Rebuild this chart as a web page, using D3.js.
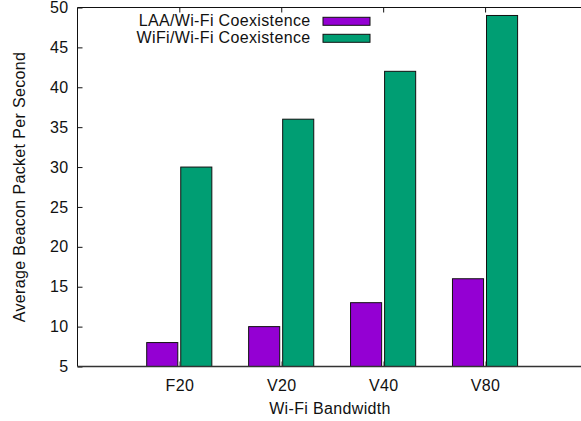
<!DOCTYPE html>
<html>
<head>
<meta charset="utf-8">
<script src="https://cdn.jsdelivr.net/npm/d3@7"></script>
<style>
  body { margin: 0; background: #fff; }
  svg text { font-family: "Liberation Sans", Arial, sans-serif; fill: #111; letter-spacing: 0.35px; }
</style>
</head>
<body>
<svg id="chart" width="581" height="421"></svg>
<script>
// categories and series
var categories = ["F20", "V20", "V40", "V80"];
var laaValues = [8, 10, 13, 16];
var wifiValues = [30, 36, 42, 49];
var seriesNames = ["LAA/Wi-Fi Coexistence", "WiFi/Wi-Fi Coexistence"];
var yTicks = [5, 10, 15, 20, 25, 30, 35, 40, 45, 50];

var colors = ["#9400d3", "#009e73"];
var margin = {left: 77.5, top: 7.5, bottom: 366.5};
var fontSize = 16;

var svg = d3.select("#chart");

// x in category units: F20 at 1, V80 at 4
var x = d3.scaleLinear().domain([0, 5]).range([77.4, 587]);
var y = d3.scaleLinear().domain([5, 50]).range([margin.bottom, margin.top]);

var barW = x(0.305) - x(0);
var offsets = [-0.32, 0.014]; // left edge of each bar relative to category, in units

var series = [laaValues, wifiValues];

// bars
series.forEach(function (vals, s) {
    svg.append("g").selectAll("rect")
        .data(vals)
        .enter().append("rect")
        .attr("x", function (d, i) { return x(i + 1 + offsets[s]); })
        .attr("y", function (d) { return y(d); })
        .attr("width", barW)
        .attr("height", function (d) { return y(5) - y(d); })
        .attr("fill", colors[s])
        .attr("stroke", "#111")
        .attr("stroke-width", 1);
});

// bottom ticks (mostly hidden between the bars)
svg.append("g").selectAll("line")
    .data(categories)
    .enter().append("line")
    .attr("x1", function (d, i) { return Math.round(x(i + 1)) + 0.5; })
    .attr("x2", function (d, i) { return Math.round(x(i + 1)) + 0.5; })
    .attr("y1", margin.bottom)
    .attr("y2", margin.bottom - 5)
    .attr("stroke", "#999");

// y axis, ticks pointing inward
var yAxis = d3.axisLeft(y).tickValues(yTicks).tickSize(-5).tickPadding(9);
var gy = svg.append("g").attr("transform", "translate(" + margin.left + ",0)").call(yAxis);
gy.select(".domain").remove();
gy.selectAll("line").attr("stroke", "#111");
gy.selectAll("text").attr("font-size", fontSize).style("font-family", "Liberation Sans, Arial, sans-serif").attr("fill", "#111");

// x tick labels at bottom
var xAxis = d3.axisBottom(x).tickValues([1, 2, 3, 4])
    .tickFormat(function (d) { return categories[d - 1]; })
    .tickSize(0).tickPadding(13);
var gx = svg.append("g").attr("transform", "translate(0," + margin.bottom + ")").call(xAxis);
gx.select(".domain").remove();
gx.selectAll("text").attr("font-size", fontSize).style("font-family", "Liberation Sans, Arial, sans-serif").attr("fill", "#111");

// mirrored x ticks at top, pointing down
var xTop = d3.axisTop(x).tickValues([1, 2, 3, 4]).tickSize(-5).tickFormat("");
var gt = svg.append("g").attr("transform", "translate(0," + margin.top + ")").call(xTop);
gt.select(".domain").remove();
gt.selectAll("line").attr("stroke", "#111");

// frame: left, bottom, top (no right border)
svg.append("line").attr("x1", margin.left).attr("x2", margin.left)
    .attr("y1", margin.top).attr("y2", margin.bottom).attr("stroke", "#111");
svg.append("line").attr("x1", margin.left).attr("x2", 581)
    .attr("y1", margin.top).attr("y2", margin.top).attr("stroke", "#111");
svg.append("line").attr("x1", margin.left).attr("x2", 581)
    .attr("y1", margin.bottom).attr("y2", margin.bottom).attr("stroke", "#333").attr("stroke-width", 1.5);

// legend
var legend = svg.append("g");
seriesNames.forEach(function (name, s) {
    var cy = 21.3 + s * 17;
    legend.append("text")
        .attr("x", 310.5).attr("y", cy + 5)
        .attr("text-anchor", "end")
        .attr("font-size", fontSize)
        .text(name);
    legend.append("rect")
        .attr("x", 323).attr("y", cy - 4)
        .attr("width", 47).attr("height", 8)
        .attr("fill", colors[s]).attr("stroke", "#111");
});

// axis titles
svg.append("text")
    .attr("x", 330).attr("y", 414)
    .attr("text-anchor", "middle")
    .attr("font-size", fontSize)
    .text("Wi-Fi Bandwidth");

svg.append("text")
    .attr("transform", "translate(25,187) rotate(-90)")
    .attr("text-anchor", "middle")
    .attr("font-size", fontSize)
    .text("Average Beacon Packet Per Second");
</script>
</body>
</html>
